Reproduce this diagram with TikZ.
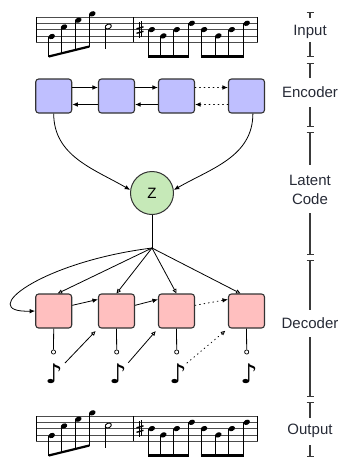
\documentclass[tikz,border=0pt]{standalone}
\usepackage{fontspec}
\setmainfont{Liberation Sans}
\newfontfamily\symfont{DejaVu Sans}
\usetikzlibrary{arrows.meta}
\definecolor{encfill}{HTML}{BFBFFF}
\definecolor{decfill}{HTML}{FFBFBF}
\definecolor{zfill}{HTML}{C6E9B8}
\definecolor{bordc}{HTML}{333333}
\definecolor{labc}{HTML}{262A36}
\definecolor{barc}{HTML}{3A3A3A}
\newcommand\mystaff[1]{%
\begin{scope}[shift={(0,-#1)}]
  \foreach \k in {0,...,4}{\draw[staffline] (36,-17-6.3*\k) -- (258,-17-6.3*\k);}
  \draw[barline] (36.5,-17) -- (36.5,-42.2);
  \draw[barline] (133,-17) -- (133,-42.2);
  \draw[barline] (257.5,-17) -- (257.5,-42.2);
  \foreach \hx/\hy/\sb in {51.7/36.5/56.5, 64/27/53.47, 78.3/20.15/49.95, 92.3/13.85/46.5}{
    \fill[rotate around={25:(\hx,-\hy)}] (\hx,-\hy) ellipse (3.4 and 2.5);
    \draw[stemline] (\hx-3,-\hy) -- (\hx-3,-\sb);
  }
  \draw[line width=2.2pt] (48.7,-56.5) -- (89.3,-46.5);
  \draw[line width=0.9pt, fill=white, rotate around={25:(108.3,-26.5)}] (108.3,-26.5) ellipse (3.2 and 2.3);
  \draw[stemline] (105.3,-26.5) -- (105.3,-49);
  \draw[line width=0.6pt] (138.8,-22) -- (138.8,-38);
  \draw[line width=0.6pt] (141.2,-21) -- (141.2,-37);
  \draw[line width=1.4pt] (136.5,-28.8) -- (143.5,-26.8);
  \draw[line width=1.4pt] (136.5,-33.3) -- (143.5,-31.3);
  \foreach \hx/\hy in {151.7/29.6, 163.3/35.9, 176.7/29.6, 191.7/23.3, 204/29.6, 218.3/35.9, 231.7/29.6, 246.7/23.3}{
    \fill[rotate around={25:(\hx,-\hy)}] (\hx,-\hy) ellipse (3.4 and 2.5);
    \draw[stemline] (\hx-3,-\hy) -- (\hx-3,-56.5);
  }
  \draw[line width=3pt] (148.3,-56.5) -- (189.1,-56.5);
  \draw[line width=3pt] (200.6,-56.5) -- (244.1,-56.5);
\end{scope}}
\begin{document}
\begin{tikzpicture}[x=1pt,y=1pt,
  staffline/.style={line width=0.6pt, draw=black!70},
  barline/.style={line width=0.9pt},
  stemline/.style={line width=0.8pt},
  box/.style={draw=bordc, line width=1.1pt, rounded corners=3pt, minimum width=36pt, minimum height=34pt, inner sep=0pt},
  enc/.style={box, fill=encfill},
  dec/.style={box, fill=decfill},
  zc/.style={circle, draw=bordc, line width=1pt, fill=zfill, minimum size=43pt, inner sep=0pt, font=\fontsize{15}{15}\selectfont},
  arr/.style={-{Latex[length=5.5pt,width=4.5pt]}, line width=0.8pt},
  oarr/.style={-{Triangle[open,length=4.5pt,width=4pt]}, line width=0.8pt},
  dotl/.style={dash pattern=on 0.9pt off 3.6pt, line cap=round},
  ring/.style={circle, draw, line width=0.7pt, fill=white, minimum size=4.2pt, inner sep=0pt},
  notesym/.style={font=\symfont\fontsize{27}{27}\selectfont, inner sep=0pt},
  slab/.style={font=\fontsize{15}{19}\selectfont, text=labc, inner sep=0pt, align=center},
  sbar/.style={line width=1.1pt, draw=barc},
  tbar/.style={sbar, {Bar[width=7pt,line width=1.1pt]}-},
  bbar/.style={sbar, -{Bar[width=7pt,line width=1.1pt]}}
]
\useasboundingbox (0,0) rectangle (338,-467);
% staffs
\mystaff{0}
\mystaff{399}
% encoder
\node[enc] (e1) at (53.7,-96) {};
\node[enc] (e2) at (116.5,-96) {};
\node[enc] (e3) at (176.5,-96) {};
\node[enc] (e4) at (246.5,-96) {};
\draw[arr] ([yshift=8.5pt]e1.east) -- ([yshift=8.5pt]e2.west);
\draw[arr] ([yshift=8.5pt]e2.east) -- ([yshift=8.5pt]e3.west);
\draw[arr,dotl] ([yshift=8.5pt]e3.east) -- ([yshift=8.5pt]e4.west);
\draw[arr] ([yshift=-8.5pt]e2.west) -- ([yshift=-8.5pt]e1.east);
\draw[arr] ([yshift=-8.5pt]e3.west) -- ([yshift=-8.5pt]e2.east);
\draw[arr,dotl] ([yshift=-8.5pt]e4.west) -- ([yshift=-8.5pt]e3.east);
% latent
\node[zc] (z) at (152,-193) {Z};
\draw[arr] (e1.south) to[out=-90,in=150] (z.172);
\draw[arr] (e4.-70) to[out=-90,in=30] (z.8);
% decoder
\coordinate (f) at (152,-248);
\draw[line width=0.8pt] (z.south) -- (f);
\node[dec] (d1) at (53.7,-311) {};
\node[dec] (d2) at (116.5,-311) {};
\node[dec] (d3) at (176.5,-311) {};
\node[dec] (d4) at (246.5,-311) {};
\draw[oarr] (f) -- ([xshift=4pt]d1.north);
\draw[oarr] (f) -- (d2.north);
\draw[oarr] (f) -- (d3.north);
\draw[oarr] (f) -- ([xshift=-6pt]d4.north);
\draw[arr] (f) .. controls (40,-262) and (-25,-313) .. (d1.west);
\draw[arr] (d1.17) -- (d2.148);
\draw[arr] (d2.17) -- (d3.148);
\draw[arr,dotl] (d3.17) -- (d4.148);
% outputs and notes
\foreach \i/\x in {1/53.5,2/116.7,3/176.7,4/246.7}{
  \node[ring] (o\i) at (\x,-352) {};
  \draw[line width=0.8pt] (d\i.south) -- (o\i.north);
}
\node[notesym] (n1) at (54,-374) {♪};
\node[notesym] (n2) at (118,-374) {♪};
\node[notesym] (n3) at (178,-374) {♪};
\node[notesym] (n4) at (249,-374) {♪};
\draw[oarr, shorten >=3.5pt] ([shift={(11pt,11pt)}]n1.center) -- (d2.south west);
\draw[oarr, shorten >=3.5pt] ([shift={(10.3pt,11.3pt)}]n2.center) -- (d3.south west);
\draw[oarr, dotl, shorten >=3.5pt] ([shift={(9pt,11pt)}]n3.center) -- (d4.south west);
% scale bar
\node[slab, anchor=base] (lin) at (310,-35.5) {Input};
\node[slab, anchor=base] (len) at (310,-97.5) {Encoder};
\node[slab] (llc) at (310,-190) {Latent\\Code};
\node[slab, anchor=base] (lde) at (310,-328) {Decoder};
\node[slab, anchor=base] (lou) at (310,-434) {Output};
\coordinate (a1) at (310,-12);  \coordinate (a2) at (310,-18);
\coordinate (a3) at (310,-42);  \coordinate (a4) at (310,-57);
\coordinate (b1) at (310,-63);  \coordinate (b2) at (310,-78);
\coordinate (b3) at (310,-107); \coordinate (b4) at (310,-127);
\coordinate (c1) at (310,-132); \coordinate (c2) at (310,-165);
\coordinate (c3) at (310,-213); \coordinate (c4) at (310,-255);
\coordinate (g1) at (310,-260); \coordinate (g2) at (310,-310);
\coordinate (g3) at (310,-337); \coordinate (g4) at (310,-397);
\coordinate (h1) at (310,-402); \coordinate (h2) at (310,-418);
\coordinate (h3) at (310,-445); \coordinate (h4) at (310,-457);
\foreach \s in {a,b,c,g,h}{
  \draw[tbar] (\s1) -- (\s2);
  \draw[bbar] (\s3) -- (\s4);
}
\end{tikzpicture}
\end{document}
